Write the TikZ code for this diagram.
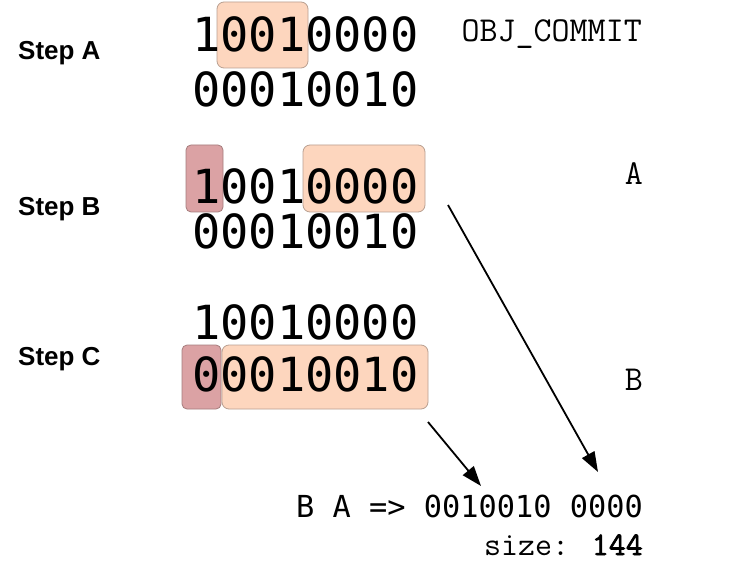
\documentclass[tikz,border=0pt]{standalone}
\usepackage{fontspec}
\setmainfont{Liberation Sans}
\newfontfamily\dmono{DejaVu Sans Mono}
\newfontfamily\ttbold{Latin Modern Mono}[FakeBold=2]
\usetikzlibrary{arrows.meta}
\definecolor{peach}{RGB}{253,214,190}
\definecolor{peachline}{RGB}{185,160,145}
\definecolor{rosy}{RGB}{219,162,164}
\definecolor{rosyline}{RGB}{165,125,125}
\begin{document}
\begin{tikzpicture}[x=1pt,y=-1pt,
 bits/.style={anchor=base west, inner sep=0pt, font=\fontsize{47}{47}\selectfont\dmono},
 steplbl/.style={anchor=base west, inner sep=0pt, font=\fontsize{26}{26}\selectfont\bfseries},
 tag/.style={anchor=base east, inner sep=0pt, font=\fontsize{35}{35}\selectfont\ttfamily},
 res/.style={anchor=base east, inner sep=0pt, font=\fontsize{30.3}{30}\selectfont\dmono},
 hlo/.style={fill=peach, draw=peachline, rounded corners=7pt, line width=0.8pt},
 hlr/.style={fill=rosy, draw=rosyline, rounded corners=5pt, line width=0.8pt},
 arr/.style={-{Triangle[length=20pt,width=14pt]}, line width=1.8pt}]
\useasboundingbox (0,0) rectangle (744,588);
\fill[white] (0,0) rectangle (744,588);
% highlight boxes
\draw[hlo] (217,2) rectangle (308,68);
\draw[hlr] (186,145) rectangle (223,212);
\draw[hlo] (303,145) rectangle (425,212);
\draw[hlr] (182,345) rectangle (221,409);
\draw[hlo] (222,345) rectangle (428,409);
% step labels
\node[steplbl] (sa) at (18,60) {Step A};
\node[steplbl] (sb) at (18,215) {Step B};
\node[steplbl] (sc) at (18,365) {Step C};
% bits
\node[bits] (a1) at (192,52) {10010000};
\node[bits] (a2) at (192,107) {00010010};
\node[bits] (b1) at (192,204) {10010000};
\node[bits] (b2) at (192,248) {00010010};
\node[bits] (c1) at (192,339) {10010000};
\node[bits] (c2) at (192,391) {00010010};
% tags
\node[tag] (obj) at (642,42) {OBJ\_COMMIT};
\node[tag] (ta) at (643,185) {A};
\node[tag] (tb) at (643,390) {B};
% result
\node[res] (r) at (643,517) {B A => 0010010 0000};
\node[tag, font=\fontsize{33}{33}\selectfont\ttfamily] (sz) at (643,555)
  {size: {\ttbold 144}};
% arrows
\coordinate (a1s) at (448,205);
\coordinate (a1e) at (598,472);
\coordinate (a2s) at (428,422);
\coordinate (a2e) at (481,486);
\draw[arr] (a1s) -- (a1e);
\draw[arr] (a2s) -- (a2e);
\end{tikzpicture}
\end{document}
